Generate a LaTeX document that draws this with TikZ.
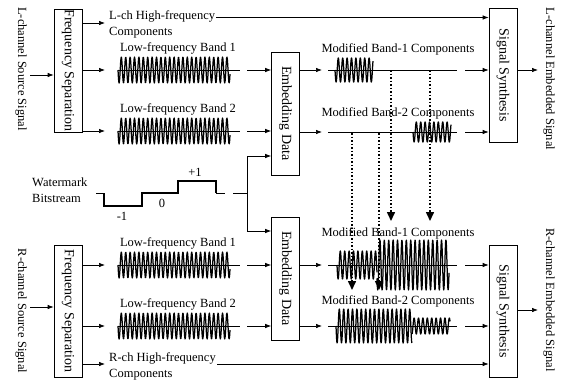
\documentclass[tikz,border=0pt]{standalone}
\usepackage{fontspec}
\usepackage{graphicx}
\setmainfont{Liberation Serif}
\usetikzlibrary{arrows.meta}
% x0, x1, y, amplitude, phase origin
\newcommand{\wv}[5]{\draw[wave] plot[domain=0:{#2-#1}, samples=300] ({#1+\x}, {#3+#4*sin((\x+#1-#5)*81.8)});}
\begin{document}
\begin{tikzpicture}[x=1pt,y=-1pt,
  every node/.style={font=\fontsize{12.5}{16}\selectfont, inner sep=0pt},
  blk/.style={draw, line width=0.7pt, minimum width=28pt, font=\fontsize{14}{16}\selectfont},
  arr/.style={line width=0.7pt, -{Latex[length=6pt,width=4.5pt]}},
  ln/.style={line width=0.7pt},
  wave/.style={line width=1.25pt, line join=round},
  bits/.style={line width=1.6pt, line join=miter},
  dotarr/.style={line width=1.5pt, dotted, -{Triangle[length=9pt,width=8pt]}},
]
\useasboundingbox (0,0) rectangle (561,381);

% ---------- blocks ----------
\node[blk, minimum height=123pt] (fs1) at (68,70.5) {\rotatebox{-90}{Frequency Separation}};
\node[blk, minimum height=132pt] (fs2) at (68,311) {\rotatebox{-90}{Frequency Separation}};
\node[blk, minimum height=123pt] (ed1) at (285.5,113.5) {\rotatebox{-90}{Embedding Data}};
\node[blk, minimum height=123pt] (ed2) at (285.5,278.5) {\rotatebox{-90}{Embedding Data}};
\node[blk, minimum height=134pt] (ss1) at (503,75) {\rotatebox{-90}{Signal Synthesis}};
\node[blk, minimum height=132pt] (ss2) at (503,311) {\rotatebox{-90}{Signal Synthesis}};

% ---------- side texts ----------
\node (lsrc) at (21,69) {\rotatebox{-90}{L-channel Source Signal}};
\node (rsrc) at (21,311) {\rotatebox{-90}{R-channel Source Signal}};
\node (lout) at (549,79) {\rotatebox{-90}{L-channel Embedded Signal}};
\node (rout) at (549,300) {\rotatebox{-90}{R-channel Embedded Signal}};

\coordinate (lin) at (30,75);
\coordinate (rin) at (30,307);
\draw[arr] (lin) -- (lin -| fs1.west);
\draw[arr] (rin) -- (rin -| fs2.west);
\coordinate (lo) at (538,70);
\coordinate (ro) at (538,310);
\draw[arr] (lo -| ss1.east) -- (lo);
\draw[arr] (ro -| ss2.east) -- (ro);

% ---------- high-frequency paths ----------
\coordinate (h1a) at (105,23);
\draw[arr] (h1a -| fs1.east) -- (h1a);
\node[anchor=west, align=left] (h1t) at (109,24) {L-ch High-frequency\\Components};
\coordinate (h1b) at (216,17.5);
\draw[arr] (h1b) -- (h1b -| ss1.west);

\coordinate (h2a) at (105,364);
\draw[arr] (h2a -| fs2.east) -- (h2a);
\node[anchor=west, align=left] (h2t) at (109,366) {R-ch High-frequency\\Components};
\coordinate (h2b) at (217,364);
\draw[arr] (h2b) -- (h2b -| ss2.west);

% ---------- low-frequency bands ----------
\foreach \yy/\lab/\fs/\ed in {70/1/fs1/ed1, 131/2/fs1/ed1, 265/1/fs2/ed2, 326/2/fs2/ed2}{
  \coordinate (pa) at (105,\yy);
  \coordinate (pb) at (118,\yy);
  \coordinate (pc) at (240,\yy);
  \coordinate (pd) at (247,\yy);
  \draw[arr] (pa -| \fs.east) -- (pa);
  \draw[ln] (pb) -- (pc);
  \wv{118}{230}{\yy}{13}{118}
  \draw[arr] (pd) -- (pd -| \ed.west);
  \node (lb) at (178,\yy-22) {Low-frequency Band \lab};
}

% ---------- modified bands ----------
\foreach \yy/\lab/\ed/\ss/\dy in {70/1/ed1/ss1/21, 132/2/ed1/ss1/19, 265/1/ed2/ss2/32, 326/2/ed2/ss2/25}{
  \coordinate (qa) at (322,\yy);
  \coordinate (qb) at (328,\yy);
  \coordinate (qc) at (457,\yy);
  \coordinate (qd) at (465,\yy);
  \draw[arr] (qa -| \ed.east) -- (qa);
  \draw[ln] (qb) -- (qc);
  \draw[arr] (qd) -- (qd -| \ss.west);
  \node (mb) at (398,\yy-\dy) {Modified Band-\lab{} Components};
}
\wv{335}{373}{70}{12}{335}
\wv{413}{451}{132}{10}{413}
\wv{337}{377}{265}{14}{337}
\wv{377}{449}{265}{25}{337}
\wv{336}{412}{326}{17}{336}
\wv{412}{450}{326}{8}{336}

% ---------- dotted transfer arrows ----------
\coordinate (d1s) at (391,70);  \coordinate (d1e) at (391,221);
\coordinate (d2s) at (430,70);  \coordinate (d2e) at (430,221);
\coordinate (d3s) at (352,133); \coordinate (d3e) at (352,290);
\coordinate (d4s) at (379,133); \coordinate (d4e) at (379,290);
\draw[dotarr] (d1s) -- (d1e);
\draw[dotarr] (d2s) -- (d2e);
\draw[dotarr] (d3s) -- (d3e);
\draw[dotarr] (d4s) -- (d4e);

% ---------- watermark bitstream ----------
\node[anchor=west, align=left] (wm) at (32,190.5) {Watermark\\Bitstream};
\coordinate (b0) at (96,193);
\coordinate (b1) at (104,193);
\coordinate (b2) at (216,193);
\coordinate (b3) at (225,193);
\draw[ln] (b0) -- (b1);
\draw[bits] (b1) -- (104,206) -- (142,206) -- (142,193) -- (178,193) -- (178,181) -- (216,181) -- (b2);
\draw[ln] (b2) -- (b3);
\node (pl) at (195,172) {+1};
\node (mi) at (122,216) {-1};
\node (ze) at (162,203) {0};
\coordinate (s0) at (233,193);
\coordinate (s1) at (247,193);
\coordinate (s2) at (247,156);
\coordinate (s3) at (247,231);
\draw[ln] (s0) -- (s1);
\draw[arr] (s1) -- (s2) -- (s2 -| ed1.west);
\draw[arr] (s1) -- (s3) -- (s3 -| ed2.west);
\end{tikzpicture}
\end{document}
